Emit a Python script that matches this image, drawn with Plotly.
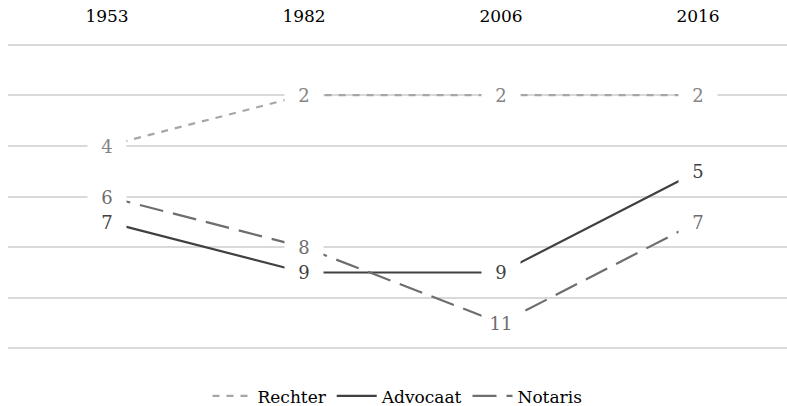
import plotly.graph_objects as go

years = ["1953", "1982", "2006", "2016"]
rechter = [4, 2, 2, 2]
advocaat = [7, 9, 9, 5]
notaris = [6, 8, 11, 7]

series = [
    ("Rechter", rechter, "#A6A6A6", "#858585", "7px,7px"),
    ("Advocaat", advocaat, "#404040", "#404040", "solid"),
    ("Notaris", notaris, "#6E6E6E", "#6E6E6E", "24px,10px"),
]

FONT = "DejaVu Serif"
xs = list(range(len(years)))

fig = go.Figure()
annotations = []
for name, vals, lc, tc, dash in series:
    fig.add_trace(go.Scatter(
        x=xs, y=vals, mode="lines", name=name,
        line=dict(color=lc, width=2.2, dash=dash),
        hoverinfo="skip",
    ))
    for xi, v in zip(xs, vals):
        annotations.append(dict(
            x=xi, y=v, xref="x", yref="y", text=str(v), showarrow=False,
            font=dict(family=FONT, size=18, color=tc),
            bgcolor="white", width=36, height=22, borderpad=1,
            xanchor="center", yanchor="middle",
        ))

fig.update_layout(
    width=787, height=406,
    margin=dict(l=8, r=0, t=42, b=55, autoexpand=False),
    paper_bgcolor="white", plot_bgcolor="white",
    font=dict(family=FONT, size=17, color="#000000"),
    annotations=annotations,
    showlegend=True,
    legend=dict(
        orientation="h", x=0.5, xanchor="center", y=-0.147, yanchor="middle",
        font=dict(family=FONT, size=17, color="#000000"),
        itemwidth=40, tracegroupgap=0,
    ),
    xaxis=dict(
        side="top", tickmode="array", tickvals=xs, ticktext=years,
        range=[-99 / 197, 3 + 89 / 197], showgrid=False, zeroline=False,
        showline=False, ticks="outside", ticklen=12, tickcolor="rgba(0,0,0,0)",
        tickfont=dict(family=FONT, size=17, color="#000000"),
        fixedrange=True, automargin=False,
    ),
    yaxis=dict(
        range=[12.1, -0.1], tickmode="linear", tick0=0, dtick=2,
        showgrid=True, gridcolor="#D9D9D9", gridwidth=2,
        zeroline=False, showline=False, showticklabels=False, ticks="",
        fixedrange=True, automargin=False,
    ),
)

fig.write_html(
    "out.html",
    config={"displayModeBar": False},
    post_script="document.body.style.margin='0';document.body.style.overflow='hidden';",
)
